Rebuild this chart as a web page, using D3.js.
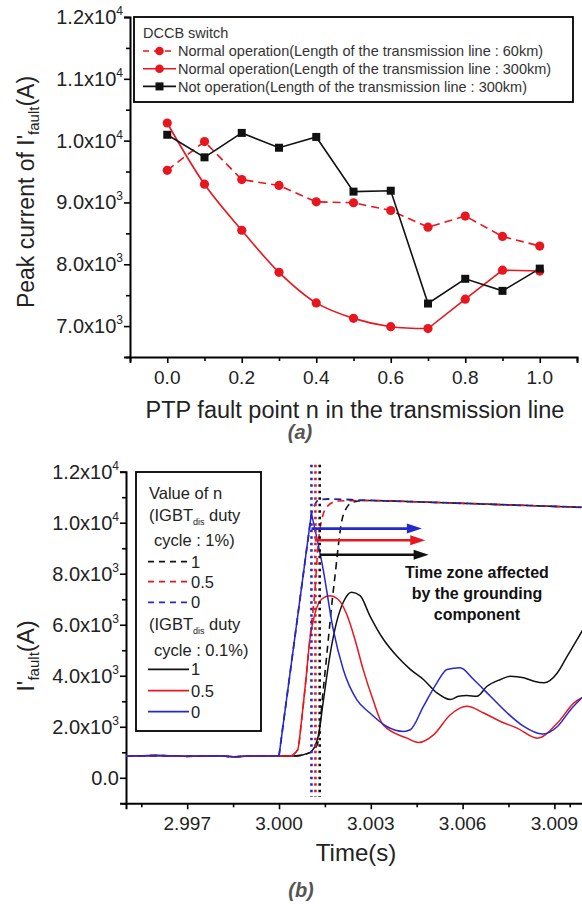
<!DOCTYPE html>
<html>
<head>
<meta charset="utf-8">
<script src="https://cdn.jsdelivr.net/npm/d3@7"></script>
<style>
body { margin: 0; background: #fff; }
text { font-family: "Liberation Sans", Arial, sans-serif; }
</style>
</head>
<body>
<script>
var w = 582;
var h = 904;

// ---- (a) peak current vs PTP fault point ----
var faultPoints = [0, 0.1, 0.2, 0.3, 0.4, 0.5, 0.6, 0.7, 0.8, 0.9, 1.0];
var peakNormal60km = [9520, 9985, 9370, 9275, 9010, 8995, 8870, 8600, 8780, 8450, 8295];
var peakNormal300km = [10285, 9295, 8550, 7870, 7375, 7125, 6990, 6960, 7435, 7905, 7890];
var peakNotOp300km = [10095, 9730, 10125, 9885, 10060, 9175, 9190, 7365, 7765, 7570, 7930];
var legendTitleA = "DCCB switch";
var legendLabelsA = [
    "Normal operation(Length of the transmission line : 60km)",
    "Normal operation(Length of the transmission line : 300km)",
    "Not operation(Length of the transmission line : 300km)"
];
var xTicksA = [0, 0.2, 0.4, 0.6, 0.8, 1.0];
var xMinorA = [-0.1, 0.1, 0.3, 0.5, 0.7, 0.9, 1.1];
var yTicksA = [7000, 8000, 9000, 10000, 11000, 12000];
var yMinorA = [6500, 7500, 8500, 9500, 10500, 11500];

// ---- (b) I'fault waveforms ----
var preFault = [[2.995, 850], [2.996, 870], [2.997, 840], [2.998, 860], [2.9985, 825], [2.999, 850], [3.0, 850]];
var solidN1 = [[3.0005, 852], [3.00101, 986], [3.00128, 1617], [3.00144, 2935], [3.00166, 4773], [3.00188, 6091],
    [3.0021, 6880], [3.00237, 7274], [3.00265, 7140], [3.00297, 6351], [3.00341, 5432], [3.00385, 4773],
    [3.00429, 4250], [3.00472, 3854], [3.00516, 3329], [3.0056, 3065], [3.00587, 3195], [3.00614, 3223],
    [3.00647, 3195], [3.0068, 3590], [3.00724, 3854], [3.00756, 3984], [3.008, 3921], [3.00833, 3787],
    [3.00866, 3724], [3.0091, 4118], [3.00942, 4773], [3.00975, 5432], [3.01, 5957]];
var solidN05 = [[3.00035, 856], [3.00061, 1093], [3.00074, 2280], [3.00088, 3854], [3.00101, 5432], [3.00117, 6418],
    [3.0014, 7010], [3.00166, 7140], [3.00192, 7010], [3.00221, 6418], [3.00248, 5432], [3.00275, 4249],
    [3.00307, 3065], [3.0034, 2079], [3.00418, 1554], [3.00456, 1381], [3.00505, 1684], [3.0056, 2473],
    [3.00614, 2801], [3.00669, 2540], [3.00724, 2209], [3.00778, 1949], [3.00844, 1554], [3.0091, 2146],
    [3.00964, 2935], [3.01, 3200]];
var solidN0 = [[3.0, 860], [3.00106, 10363], [3.00144, 8193], [3.00177, 5826], [3.0021, 4249], [3.00254, 3065],
    [3.00297, 2540], [3.00352, 2012], [3.00407, 1815], [3.00429, 1882], [3.00472, 2801], [3.00516, 3724],
    [3.00549, 4249], [3.00592, 4316], [3.00636, 3854], [3.00691, 3195], [3.00746, 2540], [3.008, 2012],
    [3.0086, 1712], [3.0091, 2012], [3.00953, 2671], [3.01, 3250]];
var dashedN1 = [[3.00125, 1300], [3.00145, 3500], [3.0018, 7600], [3.0021, 10300], [3.0024, 10800],
    [3.0028, 10870], [3.005, 10800], [3.0075, 10700], [3.01, 10600]];
var dashedN05 = [[3.00101, 5432], [3.00117, 7300], [3.00131, 9507], [3.00155, 10600], [3.0019, 10850],
    [3.0028, 10870], [3.005, 10800], [3.0075, 10700], [3.01, 10600]];
var dashedN0 = [[3.0, 860], [3.00106, 10363], [3.0013, 10900], [3.0016, 10930], [3.0028, 10880],
    [3.005, 10800], [3.0075, 10700], [3.01, 10600]];
var dottedTimes = [3.00106, 3.00119, 3.00133];
var arrowStart = [3.00106, 3.00117, 3.00133];
var arrowEnd = [3.00467, 3.00478, 3.00489];
var arrowLevel = [9770, 9310, 8746];
var noteLines = ["Time zone affected", "by the grounding", "component"];
var xTicksB = [2.997, 3.0, 3.003, 3.006, 3.009];
var xMinorB = [2.9955, 2.9985, 3.0015, 3.0045, 3.0075, 3.0095];
var yTicksB = [0, 2000, 4000, 6000, 8000, 10000, 12000];
var yMinorB = [-1000, 1000, 3000, 5000, 7000, 9000, 11000];

var RED = "#e8161e";
var BLUE = "#2727cf";
var BLACK = "#111";

var svg = d3.select("body").append("svg")
    .attr("width", w)
    .attr("height", h);

// label like 1.2x10^4
function sciLabel(sel, v) {
    if (v === 0) { sel.text("0.0"); return; }
    var e = Math.floor(Math.log10(v) + 1e-9);
    var m = (v / Math.pow(10, e)).toFixed(1);
    sel.append("tspan").text(m + "x10");
    sel.append("tspan").attr("dy", -9).attr("font-size", 12).text(e);
}

function drawAxes(g, x, y, xT, xM, yT, yM, xFmt) {
    var x0 = x.range()[0], y0 = y.range()[0];
    var ax = g.append("g").attr("transform", "translate(0," + y0 + ")");
    ax.call(d3.axisBottom(x).tickValues(xT).tickSize(6).tickFormat(""));
    ax.append("g").call(d3.axisBottom(x).tickValues(xM).tickSize(4).tickFormat(""));
    var ay = g.append("g").attr("transform", "translate(" + x0 + ",0)");
    ay.call(d3.axisLeft(y).tickValues(yT).tickSize(6).tickFormat(""));
    ay.append("g").call(d3.axisLeft(y).tickValues(yM).tickSize(4).tickFormat(""));
    g.selectAll(".domain").attr("stroke", "#000").attr("stroke-width", 2);
    g.selectAll(".tick line").attr("stroke", "#000").attr("stroke-width", 1.6);
    ax.selectAll("g .domain").filter(function() { return this.parentNode !== ax.node(); }).remove();
    ay.selectAll("g .domain").filter(function() { return this.parentNode !== ay.node(); }).remove();

    g.selectAll(".xlab").data(xT).enter().append("text")
        .attr("x", function(d) { return x(d); })
        .attr("y", y0 + 27)
        .attr("text-anchor", "middle")
        .attr("font-size", 19)
        .attr("fill", "#222")
        .text(xFmt);
    g.selectAll(".ylab").data(yT).enter().append("text")
        .attr("x", x0 - 7)
        .attr("y", function(d) { return y(d) + 7; })
        .attr("text-anchor", "end")
        .attr("font-size", 20)
        .attr("fill", "#222")
        .each(function(d) { sciLabel(d3.select(this), d); });
}

// ================= (a) =================
var xA = d3.scaleLinear().domain([-0.1, 1.1]).range([130, 577]);
var yA = d3.scaleLinear().domain([6500, 12000]).range([357, 17]);
var gA = svg.append("g");

drawAxes(gA, xA, yA, xTicksA, xMinorA, yTicksA, yMinorA, d3.format(".1f"));

var lineStraight = d3.line()
    .x(function(d) { return xA(d[0]); })
    .y(function(d) { return yA(d[1]); });
var lineSmooth = d3.line()
    .x(function(d) { return xA(d[0]); })
    .y(function(d) { return yA(d[1]); })
    .curve(d3.curveCatmullRom.alpha(0.5));

function pairs(vals) {
    return vals.map(function(v, i) { return [faultPoints[i], v]; });
}

gA.append("path").attr("d", lineStraight(pairs(peakNormal60km)))
    .attr("fill", "none").attr("stroke", RED).attr("stroke-width", 1.6)
    .attr("stroke-dasharray", "8,5");
// smooth down to the minimum, straight afterwards
var p300 = pairs(peakNormal300km);
gA.append("path").attr("d", lineSmooth(p300.slice(0, 8)) + lineStraight(p300.slice(7)).replace(/^M/, "L"))
    .attr("fill", "none").attr("stroke", RED).attr("stroke-width", 1.6);
gA.append("path").attr("d", lineStraight(pairs(peakNotOp300km)))
    .attr("fill", "none").attr("stroke", BLACK).attr("stroke-width", 1.6);

[peakNormal60km, peakNormal300km].forEach(function(s) {
    gA.selectAll(null).data(s).enter().append("circle")
        .attr("cx", function(d, i) { return xA(faultPoints[i]); })
        .attr("cy", function(d) { return yA(d); })
        .attr("r", 4.6)
        .attr("fill", RED);
});
gA.selectAll(null).data(peakNotOp300km).enter().append("rect")
    .attr("x", function(d, i) { return xA(faultPoints[i]) - 4; })
    .attr("y", function(d) { return yA(d) - 4; })
    .attr("width", 8).attr("height", 8)
    .attr("fill", BLACK);

// legend (a)
var legA = gA.append("g");
legA.append("rect").attr("x", 134).attr("y", 17).attr("width", 439).attr("height", 85)
    .attr("fill", "#fff").attr("stroke", "#000").attr("stroke-width", 1.8);
legA.append("text").attr("x", 143).attr("y", 37.5).attr("font-size", 14.5).attr("fill", "#333").text(legendTitleA);
var legItems = legA.selectAll(".li").data(legendLabelsA).enter().append("g")
    .attr("transform", function(d, i) { return "translate(0," + (51 + i * 17.7) + ")"; });
legItems.append("line").attr("x1", 143).attr("x2", 176).attr("y1", 0).attr("y2", 0)
    .attr("stroke", function(d, i) { return i < 2 ? RED : BLACK; })
    .attr("stroke-width", 1.6)
    .attr("stroke-dasharray", function(d, i) { return i === 0 ? "6,5" : null; });
legItems.each(function(d, i) {
    var g = d3.select(this);
    if (i < 2) g.append("circle").attr("cx", 159.5).attr("cy", 0).attr("r", 4.3).attr("fill", RED);
    else g.append("rect").attr("x", 155.5).attr("y", -4).attr("width", 8).attr("height", 8).attr("fill", BLACK);
});
legItems.append("text").attr("x", 178).attr("y", 5.2).attr("font-size", 14.5).attr("fill", "#333")
    .text(function(d) { return d; });

// titles (a)
gA.append("text").attr("x", 355).attr("y", 418).attr("text-anchor", "middle")
    .attr("font-size", 23.5).attr("fill", "#222").text("PTP fault point n in the transmission line");
var ytA = gA.append("text").attr("transform", "translate(34,192) rotate(-90)")
    .attr("text-anchor", "middle").attr("font-size", 23).attr("fill", "#222");
ytA.append("tspan").text("Peak current of I'");
ytA.append("tspan").attr("dy", 5).attr("font-size", 15).text("fault");
ytA.append("tspan").attr("dy", -5).text("(A)");
gA.append("text").attr("x", 300).attr("y", 439).attr("text-anchor", "middle")
    .attr("font-size", 20).attr("font-style", "italic").attr("font-weight", "bold")
    .attr("fill", "#555").text("(a)");

// ================= (b) =================
var xB = d3.scaleLinear().domain([2.995, 3.010]).range([126, 585]);
var yB = d3.scaleLinear().domain([-1000, 12000]).range([803.3, 471.7]);
var gB = svg.append("g");

drawAxes(gB, xB, yB, xTicksB, xMinorB, yTicksB, yMinorB, d3.format(".3f"));

var lineB = d3.line()
    .x(function(d) { return xB(d[0]); })
    .y(function(d) { return yB(d[1]); })
    .curve(d3.curveMonotoneX);
var lineBStraight = d3.line()
    .x(function(d) { return xB(d[0]); })
    .y(function(d) { return yB(d[1]); });

var plot = gB.append("g");
// dashed (1% duty)
plot.append("path").attr("d", lineB(preFault.concat(solidN1.slice(0, 2)).concat(dashedN1)))
    .attr("fill", "none").attr("stroke", BLACK).attr("stroke-width", 1.6).attr("stroke-dasharray", "7,5");
plot.append("path").attr("d", lineB(preFault.concat(solidN05.slice(0, 5)).concat(dashedN05.slice(1))))
    .attr("fill", "none").attr("stroke", RED).attr("stroke-width", 1.6).attr("stroke-dasharray", "7,5");
plot.append("path").attr("d", lineBStraight(dashedN0.slice(0, 2)) + lineB(dashedN0.slice(1)).replace(/^M/, "L"))
    .attr("fill", "none").attr("stroke", "#23238f").attr("stroke-width", 1.8).attr("stroke-dasharray", "7,5");
// solid (0.1% duty)
plot.append("path").attr("d", lineB(preFault.concat(solidN1)))
    .attr("fill", "none").attr("stroke", BLACK).attr("stroke-width", 1.5);
plot.append("path").attr("d", lineB(preFault.concat(solidN05)))
    .attr("fill", "none").attr("stroke", RED).attr("stroke-width", 1.5);
plot.append("path").attr("d", lineBStraight(preFault.concat(solidN0.slice(0, 2))) + lineB(solidN0.slice(1)).replace(/^M/, "L"))
    .attr("fill", "none").attr("stroke", BLUE).attr("stroke-width", 1.5);

// dotted markers
var dotColors = [BLUE, RED, BLACK];
plot.selectAll(".dv").data(dottedTimes).enter().append("line")
    .attr("x1", function(d) { return xB(d); }).attr("x2", function(d) { return xB(d); })
    .attr("y1", yB(12270)).attr("y2", yB(-750))
    .attr("stroke", function(d, i) { return dotColors[i]; })
    .attr("stroke-width", 2.6).attr("stroke-dasharray", "2.5,4");

// arrows
arrowStart.forEach(function(t0, i) {
    var yy = yB(arrowLevel[i]), x0 = xB(t0), x1 = xB(arrowEnd[i]);
    plot.append("line").attr("x1", x0).attr("x2", x1 - 12).attr("y1", yy).attr("y2", yy)
        .attr("stroke", dotColors[i]).attr("stroke-width", 2.6);
    plot.append("path").attr("d", "M" + x1 + "," + yy + "L" + (x1 - 15) + "," + (yy - 5) + "L" + (x1 - 15) + "," + (yy + 5) + "Z")
        .attr("fill", dotColors[i]);
});

plot.selectAll(".note").data(noteLines).enter().append("text")
    .attr("x", xB(3.00647))
    .attr("y", function(d, i) { return yB(7838) + i * 21; })
    .attr("text-anchor", "middle")
    .attr("font-family", "'Noto Sans', sans-serif")
    .attr("font-weight", "bold").attr("font-size", 16).attr("fill", "#111")
    .text(function(d) { return d; });

// legend (b)
var legB = gB.append("g");
legB.append("rect").attr("x", 136).attr("y", 472).attr("width", 125).attr("height", 259)
    .attr("fill", "#fff").attr("stroke", "#000").attr("stroke-width", 1.8);
var legText = [
    { y: 499, x: 149, parts: ["Value of n"] },
    { y: 521, x: 149, parts: ["(IGBT", "dis", " duty"] },
    { y: 546, x: 154, parts: ["cycle : 1%)"] },
    { y: 630, x: 149, parts: ["(IGBT", "dis", " duty"] },
    { y: 656, x: 154, parts: ["cycle : 0.1%)"] }
];
legText.forEach(function(l) {
    var t = legB.append("text").attr("x", l.x).attr("y", l.y).attr("font-size", 16.5).attr("fill", "#222");
    t.append("tspan").text(l.parts[0]);
    if (l.parts.length > 1) {
        t.append("tspan").attr("dy", 4).attr("font-size", 9).text(l.parts[1]);
        t.append("tspan").attr("dy", -4).text(l.parts[2]);
    }
});
var legSeries = [
    { y: 561.7, c: BLACK, dash: "6,5", label: "1" },
    { y: 581.7, c: RED, dash: "6,5", label: "0.5" },
    { y: 602.3, c: BLUE, dash: "6,5", label: "0" },
    { y: 669.3, c: BLACK, dash: null, label: "1" },
    { y: 690.7, c: RED, dash: null, label: "0.5" },
    { y: 711.7, c: BLUE, dash: null, label: "0" }
];
legSeries.forEach(function(s) {
    legB.append("line").attr("x1", 148).attr("x2", 189).attr("y1", s.y).attr("y2", s.y)
        .attr("stroke", s.c).attr("stroke-width", 1.8).attr("stroke-dasharray", s.dash);
    legB.append("text").attr("x", 191).attr("y", s.y + 6).attr("font-size", 16.5).attr("fill", "#222").text(s.label);
});

// titles (b)
gB.append("text").attr("x", 356).attr("y", 861).attr("text-anchor", "middle")
    .attr("font-size", 24).attr("fill", "#222").text("Time(s)");
var ytB = gB.append("text").attr("transform", "translate(34,656) rotate(-90)")
    .attr("text-anchor", "middle").attr("font-size", 24).attr("fill", "#222");
ytB.append("tspan").text("I'");
ytB.append("tspan").attr("dy", 5).attr("font-size", 15).text("fault");
ytB.append("tspan").attr("dy", -5).text("(A)");
gB.append("text").attr("x", 301).attr("y", 897).attr("text-anchor", "middle")
    .attr("font-size", 20).attr("font-style", "italic").attr("font-weight", "bold")
    .attr("fill", "#555").text("(b)");
</script>
</body>
</html>
